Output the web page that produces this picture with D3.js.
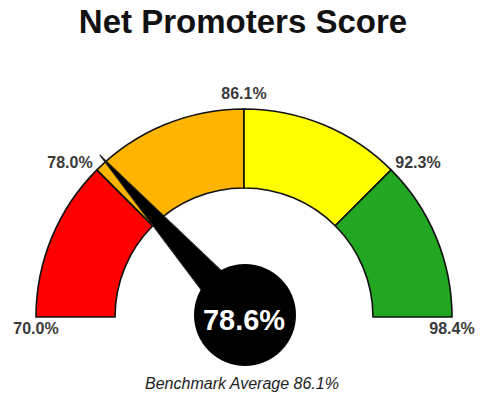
<!DOCTYPE html>
<html>
<head>
<meta charset="utf-8">
<script src="https://cdn.jsdelivr.net/npm/d3@7"></script>
<style>
  body { margin: 0; background: #fff; }
  text { font-family: Arial, "Liberation Sans", sans-serif; }
</style>
</head>
<body>
<div id="chart"></div>
<script>
// gauge data
var thresholds = [70.0, 78.0, 86.1, 92.3, 98.4];
var bandColors = ["#ff0000", "#ffb400", "#ffff00", "#22a722"];
var score = 78.6;
var benchmark = 86.1;
var title = "Net Promoters Score";

var width = 485, height = 402;
var cx = 244, cy = 317, outerR = 208, innerR = 129;

var svg = d3.select("#chart").append("svg")
  .attr("width", width)
  .attr("height", height);

// each band gets an equal quarter of the half circle
var angle = d3.scaleLinear()
  .domain(thresholds)
  .range([-90, -45, 0, 45, 90]);
function rad(v) { return angle(v) * Math.PI / 180; }

svg.append("text")
  .attr("x", 243).attr("y", 33)
  .attr("text-anchor", "middle")
  .style("font-size", "33px")
  .style("font-weight", "bold")
  .attr("fill", "#111")
  .text(title);

var g = svg.append("g").attr("transform", "translate(" + cx + "," + cy + ")");

var arc = d3.arc().innerRadius(innerR).outerRadius(outerR);

var bands = d3.range(bandColors.length).map(function(i) {
  return {lo: thresholds[i], hi: thresholds[i + 1], color: bandColors[i]};
});

g.selectAll("path.band")
  .data(bands)
  .enter().append("path")
  .attr("class", "band")
  .attr("d", function(d) { return arc({startAngle: rad(d.lo), endAngle: rad(d.hi)}); })
  .attr("fill", function(d) { return d.color; })
  .attr("stroke", "#111")
  .attr("stroke-width", 1.6);

// threshold labels
g.selectAll("text.tick")
  .data(thresholds)
  .enter().append("text")
  .attr("class", "tick")
  .attr("x", function(d) {
    var a = rad(d);
    if (Math.abs(angle(d)) === 90) return Math.sin(a) * outerR;
    return Math.sin(a) * (outerR + 6);
  })
  .attr("y", function(d) {
    var a = rad(d);
    if (Math.abs(angle(d)) === 90) return 17;
    if (angle(d) === 0) return -(outerR + 10);
    return -Math.cos(a) * (outerR + 6) + 2;
  })
  .attr("text-anchor", function(d) {
    var a = angle(d);
    if (a === 0 || Math.abs(a) === 90) return "middle";
    return a < 0 ? "end" : "start";
  })
  .style("font-size", "16px")
  .style("font-weight", "bold")
  .attr("fill", "#3a3a3a")
  .text(function(d) { return d.toFixed(1) + "%"; });

// needle
var needleLen = 217, needleBase = 18;
g.append("path")
  .attr("d", "M" + (-needleBase) + ",0 L0," + (-needleLen) + " L" + needleBase + ",0 Z")
  .attr("transform", "rotate(" + angle(score) + ")")
  .attr("fill", "#000")
  .attr("stroke", "#222")
  .attr("stroke-width", 1);

g.append("circle")
  .attr("cx", 1).attr("cy", -2)
  .attr("r", 51)
  .attr("fill", "#000");

g.append("text")
  .attr("x", 0).attr("y", 13)
  .attr("text-anchor", "middle")
  .style("font-size", "29px")
  .style("font-weight", "bold")
  .attr("fill", "#fff")
  .text(score.toFixed(1) + "%");

svg.append("text")
  .attr("x", 242).attr("y", 389)
  .attr("text-anchor", "middle")
  .style("font-size", "16px")
  .style("font-style", "italic")
  .attr("fill", "#222")
  .text("Benchmark Average " + benchmark.toFixed(1) + "%");
</script>
</body>
</html>
